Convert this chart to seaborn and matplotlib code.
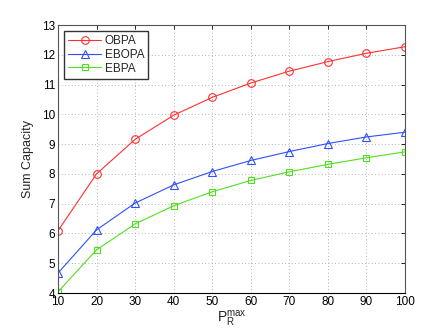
import matplotlib
matplotlib.use("Agg")
import matplotlib.pyplot as plt
import seaborn as sns
import pandas as pd

x_vals = [10, 20, 30, 40, 50, 60, 70, 80, 90, 100]
obpa = [6.09, 8.00, 9.16, 9.97, 10.57, 11.05, 11.45, 11.77, 12.05, 12.27]
ebopa = [4.67, 6.12, 7.02, 7.63, 8.08, 8.45, 8.75, 9.02, 9.24, 9.40]
ebpa = [4.04, 5.45, 6.32, 6.93, 7.40, 7.78, 8.07, 8.32, 8.54, 8.74]
series_names = ["OBPA", "EBOPA", "EBPA"]
xticks = [10, 20, 30, 40, 50, 60, 70, 80, 90, 100]
yticks = [4, 5, 6, 7, 8, 9, 10, 11, 12, 13]

sns.set_style("white")
plt.rcParams['font.family'] = ['Liberation Sans', 'DejaVu Sans']
plt.rcParams['mathtext.fontset'] = 'custom'
plt.rcParams['mathtext.rm'] = 'Liberation Sans'
plt.rcParams['mathtext.it'] = 'Liberation Sans'

fig = plt.figure(figsize=(4.47, 3.36), dpi=100)
ax = fig.add_axes([58/447, 1-293/336, (405-58)/447, (293-25)/336])

styles = [("#ff3030", "o", 5.5), ("#3050ff", "^", 6), ("#50e020", "s", 5)]
for name, vals, (c, m, ms) in zip(series_names, [obpa, ebopa, ebpa], styles):
    df = pd.DataFrame({"x": x_vals, "y": vals})
    sns.lineplot(data=df, x="x", y="y", ax=ax, color=c, marker=m, markersize=ms,
                 markerfacecolor="none", markeredgecolor=c, markeredgewidth=0.8,
                 linewidth=0.8, label=name)

ax.set_xlim(10, 100)
ax.set_ylim(4, 13)
ax.set_xticks(xticks)
ax.set_yticks(yticks)
ax.tick_params(direction="in", length=3, labelsize=8.5, colors="black", width=0.6,
               top=True, right=True, pad=2)
ax.grid(True, linestyle=(0, (1, 3)), color="#999999", linewidth=0.6)
for s in ax.spines.values():
    s.set_color("#555555")
    s.set_linewidth(0.8)
ax.spines['bottom'].set_color("black")
ax.set_ylabel("Sum Capacity", fontsize=9, labelpad=6)
ax.set_xlabel(r"$\mathrm{P}_{\mathrm{R}}^{\mathrm{max}}$", fontsize=10, labelpad=1)

leg = ax.legend(loc="upper left", fontsize=8.5, frameon=True, fancybox=False,
                edgecolor="black", handlelength=2.8, borderpad=0.35,
                labelspacing=0.15, handletextpad=0.3, borderaxespad=0.5)
leg.get_frame().set_linewidth(1.0)

fig.savefig("out.png", dpi=100)
